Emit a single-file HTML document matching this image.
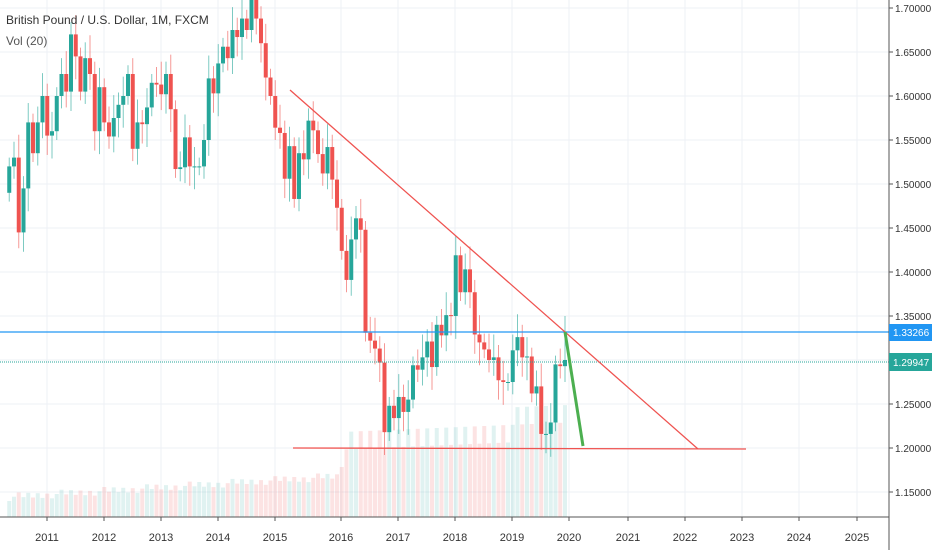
<!DOCTYPE html>
<html><head><meta charset="utf-8"><style>
body{margin:0;background:#fff;overflow:hidden}
svg{display:block;font-family:"Liberation Sans",sans-serif}
</style></head><body>
<svg id="c" width="932" height="550" xmlns="http://www.w3.org/2000/svg"></svg>
<script>
const s=document.getElementById('c');let h='';
const Y=p=>316+(1.35-p)*880;
const yrs=[[2011,47],[2012,104],[2013,161],[2014,218],[2015,275],[2016,341],[2017,398],[2018,455],[2019,512],[2020,569],[2021,628],[2022,685],[2023,742],[2024,799],[2025,857]];
yrs.forEach(([t,x])=>{h+=`<line x1="${x}" y1="0" x2="${x}" y2="517" stroke="#eef1f6" stroke-width="1"/>`;
h+=`<line x1="${x}" y1="517" x2="${x}" y2="521" stroke="#555"/><text x="${x}" y="541" font-size="11" fill="#333" text-anchor="middle">${t}</text>`});
for(let i=0;i<12;i++){const p=1.70-i*0.05,y=Y(p);h+=`<line x1="0" y1="${y}" x2="889" y2="${y}" stroke="#eef1f6"/>`;
h+=`<line x1="889" y1="${y}" x2="893" y2="${y}" stroke="#555"/><text x="895" y="${y+4}" font-size="10" fill="#333">${p.toFixed(5)}</text>`;}
const cl=[1.52,1.53,1.445,1.495,1.57,1.535,1.57,1.60,1.555,1.56,
1.60,1.625,1.605,1.67,1.645,1.605,1.643,1.625,1.56,1.61,1.57,1.554,
1.575,1.59,1.60,1.625,1.54,1.57,1.568,1.587,1.615,1.613,1.602,1.625,
1.585,1.517,1.519,1.553,1.52,1.52,1.52,1.55,1.62,1.603,1.637,1.656,
1.643,1.675,1.667,1.688,1.675,1.711,1.688,1.66,1.621,1.60,1.564,1.558,
1.506,1.543,1.483,1.535,1.528,1.572,1.561,1.534,1.512,1.542,1.505,1.473,
1.424,1.391,1.437,1.461,1.448,1.331,1.322,1.313,1.297,1.218,1.248,1.234,
1.258,1.241,1.255,1.294,1.289,1.303,1.321,1.292,1.340,1.328,1.351,1.350,
1.419,1.377,1.403,1.377,1.329,1.320,1.312,1.300,1.303,1.277,1.275,1.275,
1.311,1.326,1.303,1.304,1.262,1.270,1.216,1.216,1.229,1.295,1.293,1.300];
let vb='',cb='';const n=cl.length;
for(let i=0;i<n;i++){
 const x=565-(n-1-i)*4.75,o=i?cl[i-1]:1.49,c=cl[i],up=c>=o;
 let hi=Math.max(o,c)+0.01+((i*7)%5)*0.004,lo=Math.min(o,c)-0.01-((i*11)%5)*0.004;
 if(i==n-1)hi=1.35;
 const col=up?'#26a69a':'#ef5350';
 let vh=i<70?16+((i*13)%9)+i*0.3:50+((i*17)%35)+(i-70)*0.7;
 vb+=`<rect x="${x-2}" y="${517-vh}" width="4" height="${vh}" fill="${up?'rgba(38,166,154,0.14)':'rgba(239,83,80,0.16)'}"/>`;
 cb+=`<line x1="${x}" y1="${Y(hi)}" x2="${x}" y2="${Y(lo)}" stroke="${col}" stroke-opacity="0.6"/>`;
 const t=Y(Math.max(o,c)),b=Y(Math.min(o,c));
 cb+=`<rect x="${x-2}" y="${t}" width="4" height="${Math.max(1,b-t)}" fill="${col}"/>`;
}
h+=vb+cb;
h+=`<line x1="0" y1="332" x2="889" y2="332" stroke="#2196f3" stroke-width="1.3"/>`;
h+=`<line x1="0" y1="362" x2="889" y2="362" stroke="#26a69a" stroke-dasharray="1,1"/>`;
h+=`<line x1="290" y1="90" x2="698" y2="449" stroke="#ef5350" stroke-width="1.3"/>`;
h+=`<line x1="293" y1="448" x2="746" y2="449" stroke="#ef5350" stroke-width="1.3"/>`;
h+=`<line x1="565" y1="332" x2="583" y2="446" stroke="#4caf50" stroke-width="3"/>`;
h+=`<line x1="889" y1="0" x2="889" y2="550" stroke="#555"/><line x1="0" y1="517" x2="889" y2="517" stroke="#555"/>`;
h+=`<rect x="889" y="324" width="43" height="17" fill="#2196f3"/><text x="893" y="336" font-size="10" fill="#fff">1.33266</text>`;
h+=`<rect x="889" y="353" width="43" height="18" fill="#26a69a"/><text x="893" y="366" font-size="10" fill="#fff">1.29947</text>`;
h+=`<text x="6" y="24" font-size="12" fill="#333">British Pound / U.S. Dollar, 1M, FXCM</text><text x="6" y="45" font-size="12" fill="#555">Vol (20)</text>`;
s.innerHTML=h;
</script>
</body></html>
